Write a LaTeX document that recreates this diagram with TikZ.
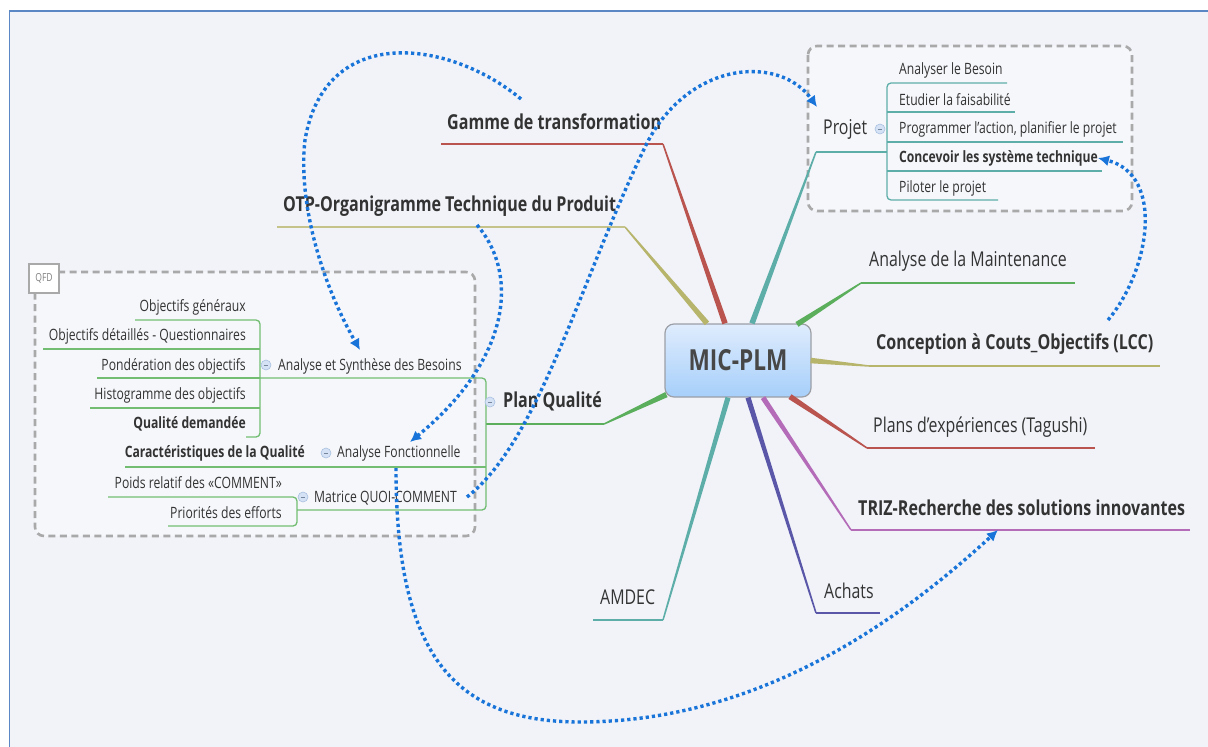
\documentclass[tikz,border=0pt]{standalone}
\usepackage{fontspec}
\setmainfont{Open Sans}[FakeStretch=0.78]
\usetikzlibrary{calc,arrows.meta}
\definecolor{bg}{HTML}{F1F3F9}
\definecolor{boxfill}{HTML}{F6F7FB}
\definecolor{frameblue}{HTML}{5B87C5}
\definecolor{boxgray}{HTML}{A9A9A9}
\definecolor{txt}{HTML}{333333}
\definecolor{cred}{HTML}{B9544F}
\definecolor{colive}{HTML}{B7B46C}
\definecolor{cteal}{HTML}{5DAEA9}
\definecolor{cgreen}{HTML}{5BAE5B}
\definecolor{cgreenl}{HTML}{72BD72}
\definecolor{cpurple}{HTML}{B46CB8}
\definecolor{cindigo}{HTML}{5A56A8}
\definecolor{dotblue}{HTML}{1874D8}
\definecolor{ctop}{HTML}{DFECFD}
\definecolor{cbot}{HTML}{A6CFFA}
\definecolor{cborder}{HTML}{9C9FA6}
\definecolor{ctext}{HTML}{474747}
\definecolor{circf}{HTML}{D5E2F5}
\definecolor{circb}{HTML}{A9BFE0}
\newcommand\taper[4]{%
  \fill[#1] let \p1=(#2), \p2=(#3), \n1={atan2(\y2-\y1,\x2-\x1)} in
    ($(\p1)+(\n1+90:#4)$) -- ($(\p2)+(\n1+90:0.75pt)$) --
    ($(\p2)+(\n1-90:0.75pt)$) -- ($(\p1)+(\n1-90:#4)$) -- cycle;}
\begin{document}
\begin{tikzpicture}[x=1pt,y=-1pt,
  lbl/.style={inner sep=0,text=txt,font=\fontsize{20.4}{24}\selectfont},
  blbl/.style={inner sep=0,text=txt,font=\fontsize{20.6}{24}\selectfont\bfseries},
  sub/.style={inner sep=0,text=txt,font=\fontsize{15.6}{18}\selectfont},
  bsub/.style={inner sep=0,text=txt,font=\fontsize{15.6}{18}\selectfont\bfseries},
  uline/.style={line width=1.5pt},
  kline/.style={line width=1.3pt,rounded corners=4pt},
  dbox/.style={draw=boxgray,line width=2.6pt,dash pattern=on 7pt off 4.5pt,rounded corners=9pt,fill=boxfill},
  circ/.style={circle,minimum size=10pt,inner sep=0,draw=circb,fill=circf,line width=0.6pt,
    path picture={\draw[circb!70!black,line width=0.8pt]
      ([xshift=-2.2pt]path picture bounding box.center) -- ([xshift=2.2pt]path picture bounding box.center);}},
  dotc/.style={draw=dotblue,line width=3.4pt,dash pattern=on 3.2pt off 3pt,
    -{Latex[length=11pt,width=11pt]}}
]
\useasboundingbox (0,0) rectangle (1208,747);
% background and frame
\fill[white] (0,0) rectangle (1208,747);
\fill[bg] (9.5,11) rectangle (1215,760);
\draw[frameblue,line width=1.6pt] (9.5,760) |- (1215,11);

% dashed boundary boxes
\draw[dbox] (808,46) rectangle (1132,211);
\draw[dbox] (35,272) rectangle (475,536);
\node[draw=boxgray,line width=2pt,fill=white,minimum width=30pt,minimum height=29pt,
  inner sep=0,text=gray,font=\fontsize{11}{12}\selectfont,anchor=north west] (qfd) at (28,263) {QFD};

% central topic
\node[draw=cborder,line width=1.2pt,rounded corners=9pt,top color=ctop,bottom color=cbot,
  minimum width=146pt,minimum height=73pt,inner sep=0,
  font=\fontsize{29}{34}\selectfont\bfseries,text=ctext] (mic) at (738,360.5) {MIC-PLM};

% elbow coordinates
\coordinate (eG) at (663,144);  \coordinate (gE) at (441,144);
\coordinate (eO) at (625,227);  \coordinate (oE) at (277,227);
\coordinate (eP) at (816,152);  \coordinate (pE) at (887,152);
\coordinate (eM) at (861,283);  \coordinate (mE) at (1075,283);
\coordinate (eC) at (869,366);  \coordinate (cE) at (1160,366);
\coordinate (eX) at (867,448);  \coordinate (xE) at (1095,448);
\coordinate (eT) at (851,530);  \coordinate (tE) at (1190,530);
\coordinate (eA) at (816,613);  \coordinate (aE) at (880,613);
\coordinate (eD) at (663,620);  \coordinate (dE) at (593,620);
\coordinate (eQ) at (604,424);  \coordinate (qE) at (486,424);

% tapered branches from the central topic
\taper{cred}{$(mic.north)+(-13,0)$}{eG}{2.8pt}
\taper{colive}{$(mic.north)+(-31,0)$}{eO}{2.8pt}
\taper{cteal}{$(mic.north)+(14,0)$}{eP}{2.8pt}
\taper{cgreen}{$(mic.north)+(59,1)$}{eM}{2.8pt}
\taper{colive}{$(mic.east)+(-1,0)$}{eC}{2.8pt}
\taper{cred}{$(mic.south)+(52,-1)$}{eX}{2.8pt}
\taper{cpurple}{$(mic.south)+(25,0)$}{eT}{2.6pt}
\taper{cindigo}{$(mic.south)+(10,0)$}{eA}{2.6pt}
\taper{cteal}{$(mic.south)+(-10,0)$}{eD}{2.6pt}
\taper{cgreen}{$(mic.south west)+(2,-3)$}{eQ}{2.8pt}

% underlines
\draw[cred,uline] (eG) -- (gE);
\draw[colive!80!white,uline] (eO) -- (oE);
\draw[cteal,uline] (eP) -- (pE);
\draw[cgreen,uline] (eM) -- (mE);
\draw[colive,uline] (eC) -- (cE);
\draw[cred,uline] (eX) -- (xE);
\draw[cpurple,uline] (eT) -- (tE);
\draw[cindigo,uline] (eA) -- (aE);
\draw[cteal,uline] (eD) -- (dE);
\draw[cgreen,uline] (eQ) -- (qE);

% main labels
\node[blbl,anchor=base west] (gamme) at (447,129) {Gamme de transformation};
\node[blbl,anchor=base west] (otp) at (283,211) {OTP-Organigramme Technique du Produit};
\node[lbl,anchor=base west] (projet) at (823,134) {Projet};
\node[lbl,anchor=base west] (maint) at (869,266) {Analyse de la Maintenance};
\node[blbl,anchor=base west] (lcc) at (876,349) {Conception à Couts\_Objectifs (LCC)};
\node[lbl,anchor=base west] (plans) at (873,432) {Plans d'expériences (Tagushi)};
\node[blbl,anchor=base west] (triz) at (858,515) {TRIZ-Recherche des solutions innovantes};
\node[lbl,anchor=base west] (achats) at (824,598) {Achats};
\node[lbl,anchor=base west] (amdec) at (600,604) {AMDEC};
\node[blbl,anchor=base west] (pq) at (503,407) {Plan Qualité};

% Projet sub-topics
\draw[cteal,kline] (1007,83) -- (887,83) -- (887,200) -- (998,200);
\draw[cteal,kline] (887,112) -- (1015,112);
\draw[cteal,kline] (887,142) -- (1123,142);
\draw[cteal,kline] (887,171) -- (1102,171);
\node[circ] (cp) at (880,129) {};
\node[sub,anchor=base west] (p1) at (899,74) {Analyser le Besoin};
\node[sub,anchor=base west] (p2) at (899,105) {Etudier la faisabilité};
\node[sub,anchor=base west] (p3) at (899,133) {Programmer l’action, planifier le projet};
\node[bsub,anchor=base west] (p4) at (899,162) {Concevoir les système technique};
\node[sub,anchor=base west] (p5) at (899,192) {Piloter le projet};

% Plan Qualite sub-topics
\draw[cgreenl,kline] (260,378) -- (486,378) -- (486,510) -- (297,510);
\draw[cgreenl,kline] (125,467) -- (486,467);
\draw[cgreenl,kline] (135,320) -- (260,320) -- (260,437) -- (246,437);
\draw[cgreenl,kline] (43,349) -- (260,349);
\draw[cgreenl,kline] (97,378) -- (260,378);
\draw[cgreenl,kline] (90,408) -- (260,408);
\draw[cgreenl,kline] (108,497) -- (297,497) -- (297,526) -- (168,526);
\node[circ] (cpq) at (490,402) {};
\node[circ] (casb) at (266,365) {};
\node[circ] (caf) at (326,453) {};
\node[circ] (cmq) at (303,497) {};
\node[sub,anchor=base west] (asb) at (278,370) {Analyse et Synthèse des Besoins};
\node[sub,anchor=base east] (q1) at (246,311) {Objectifs généraux};
\node[sub,anchor=base east] (q2) at (246,340) {Objectifs détaillés - Questionnaires};
\node[sub,anchor=base east] (q3) at (246,370) {Pondération des objectifs};
\node[sub,anchor=base east] (q4) at (246,399) {Histogramme des objectifs};
\node[bsub,anchor=base east] (q5) at (246,428) {Qualité demandée};
\node[sub,anchor=base west] (af) at (337,457) {Analyse Fonctionnelle};
\node[bsub,anchor=base east] (carq) at (305,457) {Caractéristiques de la Qualité};
\node[sub,anchor=base west] (mqc) at (314,502) {Matrice QUOI-COMMENT};
\node[sub,anchor=base east] (poids) at (282,488) {Poids relatif des «COMMENT»};
\node[sub,anchor=base east] (prio) at (282,518) {Priorités des efforts};

% dotted relationships
\coordinate (rA1) at (521,99);   \coordinate (rA2) at (360,350);
\coordinate (rB1) at (477,225);  \coordinate (rB2) at (410,442);
\coordinate (rC1) at (467,497);  \coordinate (rC2) at (817,107);
\coordinate (rD1) at (1108,320); \coordinate (rD2) at (1098,158);
\coordinate (rE1) at (396,468);  \coordinate (rE2) at (998,530);
\draw[dotc] (rA1) .. controls (450,40) and (325,22) .. (305,140)
   .. controls (298,200) and (320,280) .. (rA2);
\draw[dotc] (rB1) .. controls (520,275) and (510,360) .. (rB2);
\draw[dotc] (rC1) .. controls (540,440) and (580,280) .. (647,143)
   .. controls (690,60) and (780,55) .. (rC2);
\draw[dotc] (rD1) .. controls (1150,270) and (1165,175) .. (rD2);
\draw[dotc] (rE1) .. controls (396,650) and (450,722) .. (580,722)
   .. controls (760,722) and (900,620) .. (rE2);
\end{tikzpicture}
\end{document}
